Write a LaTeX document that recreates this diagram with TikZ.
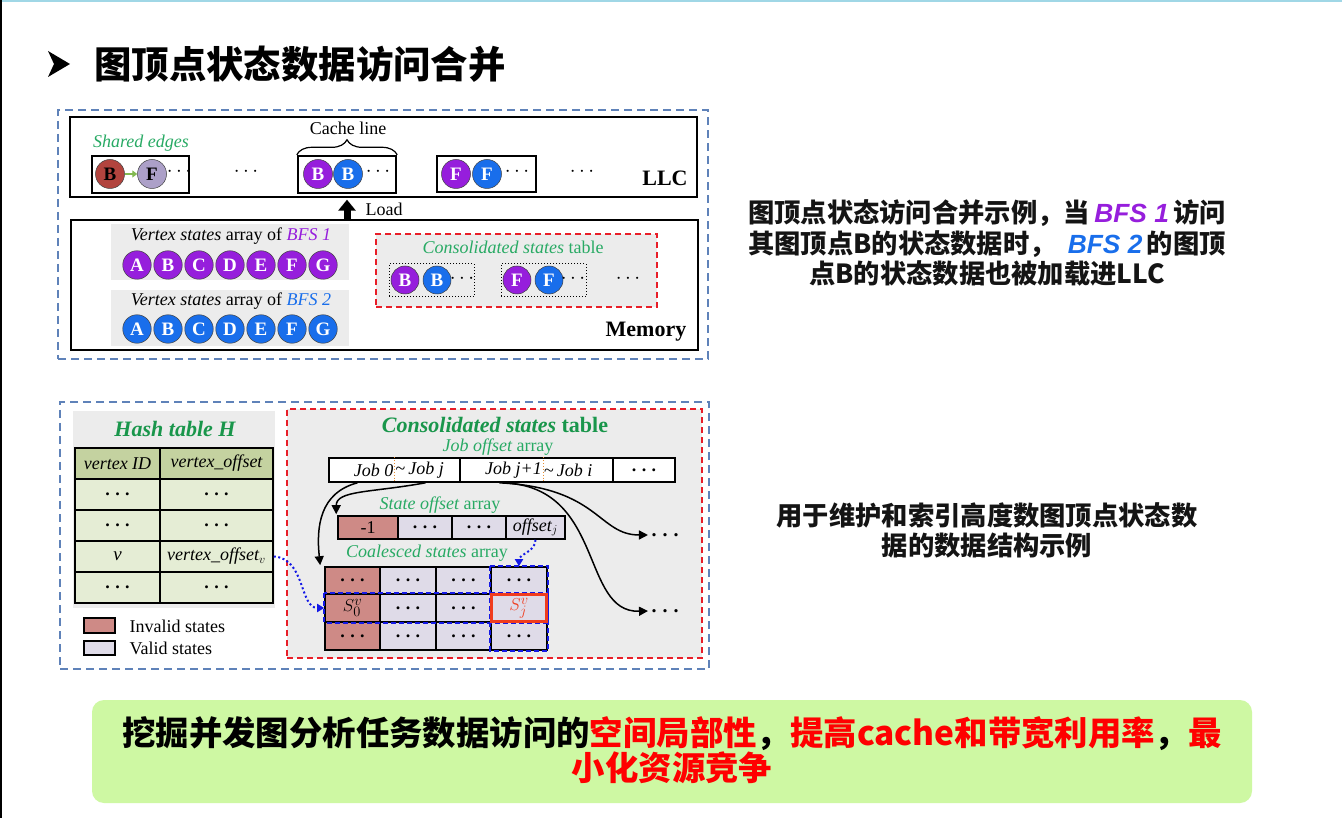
\documentclass[tikz,border=0pt]{standalone}
\usepackage{fontspec}
\setmainfont{Liberation Serif}
\newfontfamily\cjk{Noto Sans CJK SC}
\newfontfamily\lsans{Liberation Sans}
\usetikzlibrary{arrows.meta,decorations.pathreplacing,calc,fit}

\newcommand\fsz[1]{\fontsize{#1}{#1}\selectfont}
\newcommand\tdots{\textbf{.\hspace{0.3em}.\hspace{0.3em}.}}

\definecolor{vpurple}{RGB}{150,30,220}
\definecolor{vblue}{RGB}{25,110,235}
\definecolor{edgered}{RGB}{178,68,62}
\definecolor{edgelav}{RGB}{172,160,200}
\definecolor{edgegreen}{RGB}{130,185,80}
\definecolor{tgreen}{RGB}{40,170,100}
\definecolor{dgreen}{RGB}{25,150,75}
\definecolor{panelgray}{RGB}{236,236,236}
\definecolor{frameblue}{RGB}{95,130,185}
\definecolor{cred}{RGB}{232,30,40}
\definecolor{rose}{RGB}{206,138,134}
\definecolor{lav}{RGB}{223,219,232}
\definecolor{hdrgreen}{RGB}{196,210,160}
\definecolor{rowgreen}{RGB}{229,237,213}
\definecolor{dblue}{RGB}{20,25,230}
\definecolor{jred}{RGB}{240,60,30}
\definecolor{banner}{RGB}{206,248,163}
\definecolor{orng}{RGB}{230,140,50}
\definecolor{topline}{RGB}{160,215,230}

\tikzset{
  vc/.style={circle, draw=black!75, line width=0.5pt, minimum size=29pt, inner sep=0pt,
             text=white, font=\fsz{19}\bfseries},
  pv/.style={vc, fill=vpurple},
  bv/.style={vc, fill=vblue},
  frame/.style={draw=frameblue, line width=1.6pt, dash pattern=on 8pt off 5pt, inner sep=0pt},
  level/.style={draw, line width=1.3pt, inner sep=0pt},
  linebox/.style={draw, line width=2.4pt, inner sep=0pt},
  dotbox/.style={draw, line width=1pt, dotted, inner sep=0pt},
  panel/.style={fill=panelgray, inner sep=0pt},
  redbox/.style={draw=cred, line width=2pt, dash pattern=on 6pt off 4pt, fill=panelgray, inner sep=0pt},
  cell/.style={draw, line width=1.6pt, inner sep=0pt},
  lbl/.style={font=\fsz{18}},
  glbl/.style={font=\fsz{18}, text=tgreen},
  bigdots/.style={font=\fsz{20}},
  blk/.style={line width=1.5pt, -{Triangle[width=9pt,length=9pt]}},
  bdot/.style={dblue, line width=2pt, dash pattern=on 2pt off 2.5pt, -{Triangle[width=8pt,length=7pt]}},
  bdash/.style={dblue, line width=2.2pt, dash pattern=on 5pt off 3pt},
  cjkbig/.style={font=\cjk\bfseries\fontsize{26.3}{30.5}\selectfont, align=center, text=black!92},
}

\begin{document}
\begin{tikzpicture}[x=1pt,y=-1pt]
\useasboundingbox (0,0) rectangle (1342,818);
\fill[white] (0,0) rectangle (1342,818);
\draw[topline, line width=2pt] (0,1) -- (1342,1);
\draw[black, line width=2pt] (1,0) -- (1,818);

% ---------- heading ----------
\fill[black] (48,51) -- (70,64) -- (48,77) -- (54,64) -- cycle;
\node[anchor=west, font=\cjk\bfseries\fsz{37.4}, inner sep=0pt] (title) at (94,64) {图顶点状态数据访问合并};

% ---------- upper figure: LLC and memory ----------
\node[frame, fit={(58,110)(708,359)}] (f1) {};
\node[level, fit={(70,117)(697,197)}] (llc) {};
\node[level, fit={(71,220)(698,350)}] (mem) {};

\node[glbl, font=\fsz{18}\itshape] (se) at (141,143) {Shared edges};
\node[linebox, fit={(92,156)(189,193)}] (eb) {};
\node[vc, fill=edgered, text=black] (eB) at (110,174) {B};
\node[vc, fill=edgelav, text=black] (eF) at (152,174) {F};
\node[bigdots] (ed) at (179,172) {$\cdots$};
\draw[edgegreen, line width=2pt, -{Triangle[width=7pt,length=5pt]}] (eB) -- (eF);
\node[bigdots] (d1) at (246,172) {$\cdots$};

\node[linebox, fit={(298,156)(396,193)}] (cl) {};
\node[pv] (clB1) at (318,174) {B};
\node[bv] (clB2) at (348,174) {B};
\node[bigdots] (cld) at (378,172) {$\cdots$};
\draw[decorate, decoration={brace, amplitude=15pt}, line width=1.2pt] (cl.north west) -- (cl.north east);
\node[lbl] (cltxt) at (348,128) {Cache line};

\node[linebox, fit={(437,156)(536,192)}] (fb) {};
\node[pv] (fbF1) at (456,174) {F};
\node[bv] (fbF2) at (487,174) {F};
\node[bigdots] (fbd) at (517,172) {$\cdots$};
\node[bigdots] (d2) at (582,172) {$\cdots$};
\node[font=\fsz{22}\bfseries] (llct) at (665,178) {LLC};

\draw[line width=7pt, -{Triangle[width=17pt,length=11pt]}] (mem.north -| cl.south) -- ($(llc.south -| cl.south)+(0,2)$);
\node[lbl, anchor=west] (load) at (362,209) {Load};

\node[panel, fit={(111,224)(349,280)}] (p1) {};
\node[panel, fit={(111,290)(349,346)}] (p2) {};
\node[lbl] (p1t) at (231,236) {\itshape Vertex states\upshape{} array of \textcolor{vpurple}{\itshape BFS 1}};
\node[lbl] (p2t) at (231,301) {\itshape Vertex states\upshape{} array of \textcolor{vblue}{\itshape BFS 2}};
\foreach \l [count=\i from 0] in {A,...,G} {
  \node[pv, minimum size=28.5pt] (pa\l) at (137+31*\i,265) {\l};
  \node[bv, minimum size=28.5pt] (ba\l) at (137+31*\i,329) {\l};
}

\node[redbox, fit={(376,234)(657,307)}] (ct1) {};
\node[glbl] (ct1t) at (513,247) {\itshape Consolidated states\upshape{} table};
\node[dotbox, fit={(389,264)(474,297)}] (cb1) {};
\node[dotbox, fit={(501,264)(586,297)}] (cb2) {};
\node[pv, minimum size=28pt] (cB1) at (405,280) {B};
\node[bv, minimum size=28pt] (cB2) at (437,280) {B};
\node[bigdots] (cbd1) at (462,279) {$\cdots$};
\node[pv, minimum size=28pt] (cF1) at (517,280) {F};
\node[bv, minimum size=28pt] (cF2) at (549,280) {F};
\node[bigdots] (cbd2) at (573,279) {$\cdots$};
\node[bigdots] (cbd3) at (628,279) {$\cdots$};
\node[font=\fsz{22}\bfseries] (memt) at (646,332) {Memory};

% ---------- lower figure: hash table and consolidated states table ----------
\node[frame, fit={(60,402)(709,669)}] (f2) {};
\node[panel, fit={(73,411)(275,608)}] (hp) {};
\node[font=\fsz{22}\bfseries\itshape, text=dgreen] (ht) at (175,429) {Hash table H};

\node[cell, fill=hdrgreen, fit={(75,448)(160,479)}] (h0a) {};
\node[cell, fill=hdrgreen, fit={(160,448)(273,479)}] (h0b) {};
\node[cell, fill=rowgreen, fit={(75,479)(160,510)}] (h1a) {};
\node[cell, fill=rowgreen, fit={(160,479)(273,510)}] (h1b) {};
\node[cell, fill=rowgreen, fit={(75,510)(160,541)}] (h2a) {};
\node[cell, fill=rowgreen, fit={(160,510)(273,541)}] (h2b) {};
\node[cell, fill=rowgreen, fit={(75,541)(160,572)}] (h3a) {};
\node[cell, fill=rowgreen, fit={(160,541)(273,572)}] (voff) {};
\node[cell, fill=rowgreen, fit={(75,572)(160,603)}] (h4a) {};
\node[cell, fill=rowgreen, fit={(160,572)(273,603)}] (h4b) {};
\node[lbl, font=\fsz{18}\itshape] at (h0a.center) {vertex ID};
\node[lbl, font=\fsz{18}\itshape] at (h0b.center) {vertex\_offset};
\node[lbl] at (h1a.center) {\tdots};
\node[lbl] at (h1b.center) {\tdots};
\node[lbl] at (h2a.center) {\tdots};
\node[lbl] at (h2b.center) {\tdots};
\node[lbl, font=\fsz{19}\itshape] at (h3a.center) {v};
\node[lbl, font=\fsz{18}\itshape] at (voff.center) {vertex\_offset$_v$};
\node[lbl] at (h4a.center) {\tdots};
\node[lbl] at (h4b.center) {\tdots};

\node[cell, line width=1.4pt, fill=rose, fit={(84,618)(115,633)}] (leg1) {};
\node[cell, line width=1.4pt, fill=lav, fit={(84,641)(115,655)}] (leg2) {};
\node[lbl, anchor=west] at (126,626) {Invalid states};
\node[lbl, anchor=west] at (126,648) {Valid states};

\node[redbox, fit={(287,409)(702,658)}] (ct2) {};
\node[font=\fsz{22}\bfseries, text=dgreen] (ct2t) at (495,425) {\itshape Consolidated states\upshape{} table};
\node[glbl] (jlab) at (498,447) {\itshape Job offset\upshape{} array};

\node[cell, fill=white, fit={(329,458)(460,482)}] (j1) {};
\node[cell, fill=white, fit={(460,458)(613,482)}] (j2) {};
\node[cell, fill=white, fit={(613,458)(675,482)}] (j3) {};
\draw[orng, line width=0.9pt, dotted] (j1.north) -- (j1.south);
\draw[orng, line width=0.9pt, dotted] ($(j2.north)+(6.5,0)$) -- ($(j2.south)+(6.5,0)$);
\node[lbl, anchor=east, inner sep=1pt] at (j1.center) {\itshape Job 0};
\node[lbl, anchor=west, inner sep=1pt] at (j1.center) {\textasciitilde\,\itshape Job j};
\node[lbl, anchor=east, inner sep=1pt] at ($(j2.center)+(6.5,0)$) {\itshape Job j+1};
\node[lbl, anchor=west, inner sep=1pt] at ($(j2.center)+(6.5,0)$) {\textasciitilde\,\itshape Job i};
\node[lbl] at (j3.center) {\tdots};

\node[glbl] (slab) at (440,505) {\itshape State offset\upshape{} array};
\node[cell, fill=rose, fit={(338,516)(398,539)}] (s1) {};
\node[cell, fill=lav, fit={(398,516)(452,539)}] (s2) {};
\node[cell, fill=lav, fit={(452,516)(506,539)}] (s3) {};
\node[cell, fill=lav, fit={(506,516)(565,539)}] (s4) {};
\node[lbl] at (s1.center) {-1};
\node[lbl] at (s2.center) {\tdots};
\node[lbl] at (s3.center) {\tdots};
\node[lbl] at (s4.center) {\itshape offset$_j$};

\node[glbl] (glab) at (427,553) {\itshape Coalesced states\upshape{} array};
\foreach \c/\xa/\xb/\fl in {1/325/380/rose, 2/380/436/lav, 3/436/491/lav, 4/491/547/lav} {
  \foreach \r/\ya/\yb in {1/567/594, 2/594/622, 3/622/650} {
    \node[cell, fill=\fl, fit={(\xa,\ya)(\xb,\yb)}] (g\r\c) {};
  }
}
\foreach \n in {g11,g12,g13,g14,g22,g23,g31,g32,g33,g34} { \node[lbl] at (\n.center) {\tdots}; }
\node[lbl, font=\fsz{19}] at (g21.center) {$S^{v}_{0}$};
\node[lbl, font=\fsz{19}, text=jred] at (g24.center) {$S^{v}_{j}$};
\draw[bdash] (g21.north west) rectangle (g24.south east);
\draw[bdash] (g14.north west) rectangle (g34.south east);
\draw[jred, line width=2.8pt] ($(g24.north west)+(1,1)$) rectangle ($(g24.south east)+(-1,-1)$);

\node[bigdots] (e1) at (665,535) {\tdots};
\node[bigdots] (e2) at (665,611) {\tdots};

\draw[blk] ($(j1.south)+(-37,0)$) .. controls +(-38,10) and +(-4,-38) .. ($(g11.north west)+(-4,-1)$);
\draw[blk] ($(j1.south)+(31,0)$) .. controls +(-55,10) and +(0,-24) .. ($(s1.north west)+(-1,-1)$);
\draw[blk] ($(j2.south)+(-37,0)$) .. controls +(100,5) and +(-50,0) .. (e1.west);
\draw[blk] ($(j2.south)+(-34,0)$) .. controls +(103,3) and +(-68,2) .. (e2.west);

\draw[bdot] (voff.east) .. controls +(32,2) and +(-25,0) .. (g21.west);
\draw[bdot] (s4.south) .. controls +(0,12) and +(0,-12) .. (g14.north);

% ---------- explanatory text ----------
\node[cjkbig] (t1) at (987,243) {图顶点状态访问合并示例，当\,\textcolor{vpurple}{\lsans\bfseries\itshape BFS 1}\,访问\\其图顶点B的状态数据时，\ \ \textcolor{vblue}{\lsans\bfseries\itshape BFS 2}\,的图顶\\点B的状态数据也被加载进LLC};
\node[cjkbig] (t2) at (987,530.5) {用于维护和索引高度数图顶点状态数\\据的数据结构示例};

% ---------- summary banner ----------
\node[fill=banner, rounded corners=12pt, inner sep=0pt, fit={(92,700)(1252,803)}] (ban) {};
\node[font=\cjk\bfseries\fontsize{33.4}{35}\selectfont, align=center] (bant) at (672,750.5)
  {挖掘并发图分析任务数据访问的\textcolor{red}{空间局部性}，\textcolor{red}{提高cache和带宽利用率}，\textcolor{red}{最}\\\textcolor{red}{小化资源竞争}};
\end{tikzpicture}
\end{document}
